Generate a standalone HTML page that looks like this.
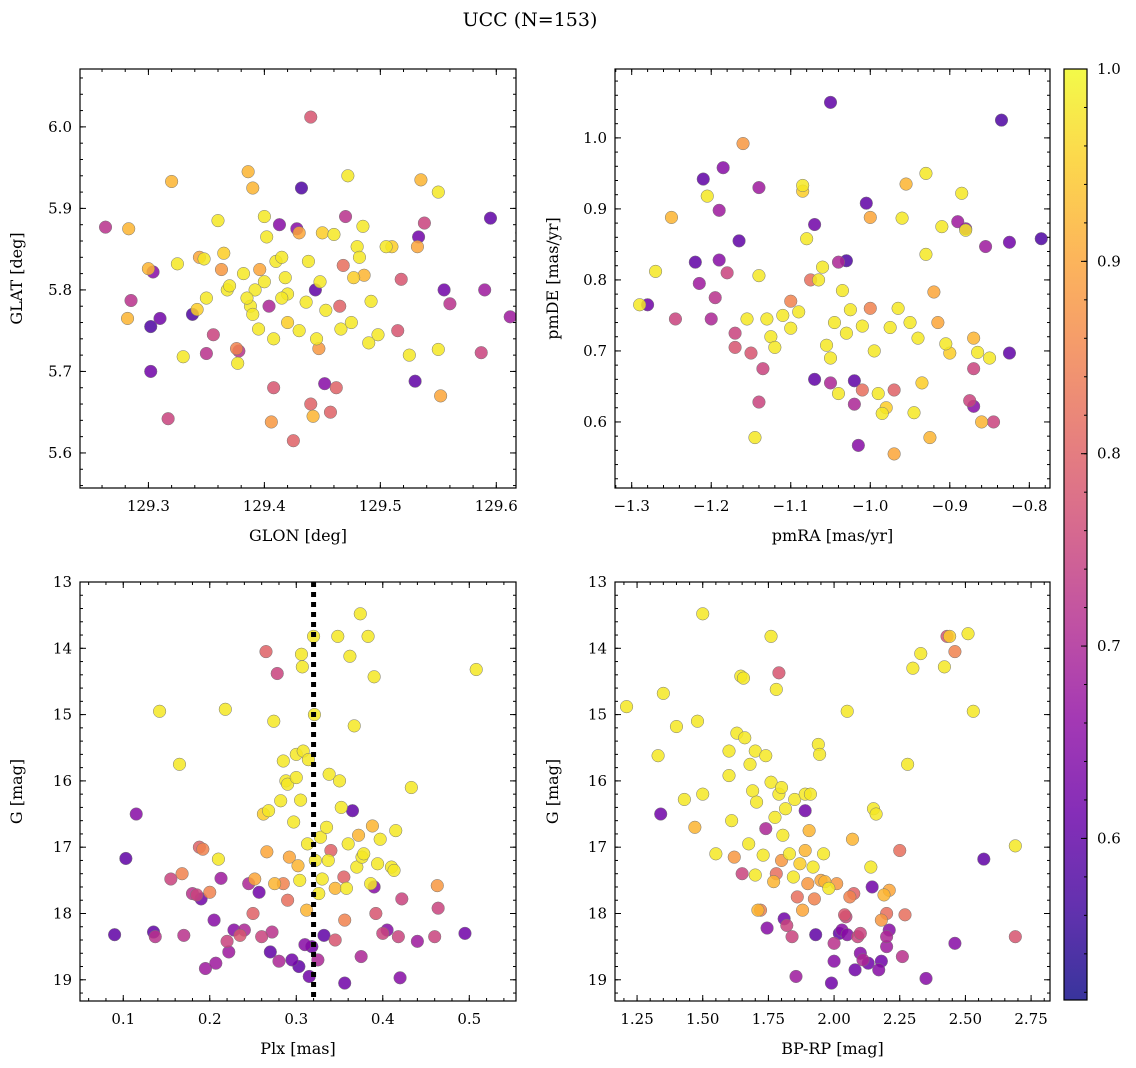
<!DOCTYPE html>
<html><head><meta charset="utf-8"><style>
html,body{margin:0;padding:0;background:#fff;}
svg{display:block;font-family:"DejaVu Serif","Liberation Serif",serif;}
</style></head><body>
<svg id="fig" width="1136" height="1068" viewBox="0 0 1136 1068" xmlns="http://www.w3.org/2000/svg">
<text x="530" y="26" text-anchor="middle" font-size="19">UCC (N=153)</text>
</svg>
<script>
// ---------- data ----------
const p1Data = [
[129.263,5.877,0.72],[129.283,5.875,0.92],[129.282,5.765,0.92],[129.285,5.787,0.72],[129.300,5.826,0.92],[129.304,5.822,0.65],[129.302,5.755,0.58],[129.310,5.765,0.62],[129.302,5.700,0.62],[129.317,5.642,0.75],[129.320,5.933,0.92],[129.325,5.832,0.98],[129.330,5.718,0.98],[129.338,5.770,0.58],[129.342,5.776,0.95],[129.344,5.840,0.9],[129.348,5.838,0.98],[129.350,5.790,0.98],[129.350,5.722,0.72],[129.356,5.745,0.75],[129.360,5.885,0.98],[129.363,5.825,0.88],[129.365,5.845,0.95],[129.368,5.800,0.98],[129.370,5.805,0.98],[129.376,5.728,0.85],[129.378,5.725,0.72],[129.377,5.710,0.98],[129.382,5.820,0.98],[129.386,5.945,0.92],[129.390,5.925,0.92],[129.388,5.780,0.98],[129.390,5.770,0.98],[129.392,5.800,0.98],[129.395,5.752,0.98],[129.396,5.825,0.9],[129.400,5.890,0.98],[129.402,5.865,0.98],[129.404,5.780,0.7],[129.406,5.638,0.88],[129.408,5.680,0.78],[129.408,5.740,0.98],[129.410,5.835,0.98],[129.413,5.880,0.65],[129.415,5.840,0.98],[129.418,5.815,0.98],[129.420,5.795,0.98],[129.420,5.760,0.95],[129.425,5.615,0.8],[129.428,5.875,0.65],[129.430,5.870,0.9],[129.432,5.925,0.58],[129.436,5.785,0.98],[129.438,5.835,0.98],[129.440,5.660,0.8],[129.440,6.012,0.78],[129.442,5.645,0.92],[129.444,5.800,0.6],[129.447,5.728,0.88],[129.448,5.810,0.98],[129.450,5.870,0.95],[129.452,5.685,0.65],[129.453,5.775,0.98],[129.457,5.650,0.8],[129.460,5.868,0.98],[129.462,5.680,0.8],[129.465,5.780,0.8],[129.466,5.752,0.98],[129.468,5.830,0.82],[129.470,5.890,0.72],[129.472,5.940,0.98],[129.475,5.760,0.98],[129.477,5.815,0.95],[129.480,5.853,0.98],[129.482,5.840,0.98],[129.485,5.878,0.98],[129.486,5.818,0.92],[129.490,5.735,0.98],[129.492,5.786,0.98],[129.498,5.745,0.98],[129.505,5.853,0.98],[129.510,5.853,0.95],[129.515,5.750,0.78],[129.518,5.813,0.78],[129.525,5.720,0.98],[129.530,5.688,0.6],[129.532,5.853,0.9],[129.533,5.865,0.62],[129.535,5.935,0.92],[129.538,5.882,0.75],[129.550,5.920,0.98],[129.550,5.727,0.98],[129.552,5.670,0.9],[129.555,5.800,0.62],[129.560,5.783,0.72],[129.587,5.723,0.75],[129.590,5.800,0.68],[129.595,5.888,0.6],[129.612,5.767,0.68],[129.622,5.870,0.98],[129.445,5.740,0.98],[129.430,5.750,0.98],[129.415,5.790,0.98],[129.400,5.810,0.98],[129.385,5.790,0.98]];
const p2Data = [
[-1.29,0.765,0.98],[-1.28,0.765,0.62],[-1.27,0.812,0.98],[-1.25,0.888,0.92],[-1.245,0.745,0.75],[-1.22,0.825,0.6],[-1.215,0.795,0.68],[-1.21,0.942,0.6],[-1.205,0.918,0.98],[-1.20,0.745,0.7],[-1.195,0.775,0.72],[-1.19,0.828,0.65],[-1.19,0.898,0.68],[-1.185,0.958,0.65],[-1.18,0.810,0.75],[-1.17,0.725,0.75],[-1.17,0.705,0.78],[-1.165,0.855,0.6],[-1.16,0.992,0.88],[-1.155,0.745,0.98],[-1.15,0.697,0.78],[-1.145,0.578,0.98],[-1.14,0.628,0.75],[-1.14,0.806,0.98],[-1.14,0.930,0.68],[-1.135,0.675,0.75],[-1.13,0.745,0.98],[-1.125,0.720,0.98],[-1.12,0.705,0.98],[-1.11,0.750,0.98],[-1.10,0.732,0.98],[-1.10,0.770,0.85],[-1.09,0.755,0.98],[-1.085,0.933,0.98],[-1.085,0.925,0.95],[-1.08,0.858,0.98],[-1.075,0.800,0.82],[-1.07,0.878,0.62],[-1.07,0.660,0.6],[-1.065,0.800,0.98],[-1.06,0.818,0.98],[-1.055,0.708,0.98],[-1.05,0.690,0.98],[-1.05,0.655,0.7],[-1.045,0.740,0.98],[-1.04,0.640,0.98],[-1.04,0.825,0.7],[-1.035,0.785,0.98],[-1.03,0.725,0.98],[-1.03,0.827,0.58],[-1.025,0.758,0.98],[-1.02,0.625,0.7],[-1.02,0.658,0.6],[-1.015,0.567,0.65],[-1.01,0.735,0.98],[-1.005,0.908,0.6],[-1.00,0.888,0.9],[-1.00,0.760,0.85],[-0.995,0.700,0.98],[-0.99,0.640,0.98],[-0.985,0.612,0.98],[-0.98,0.620,0.95],[-0.975,0.733,0.98],[-0.97,0.645,0.8],[-0.97,0.555,0.9],[-0.965,0.760,0.98],[-0.96,0.887,0.98],[-0.955,0.935,0.92],[-0.95,0.740,0.98],[-0.945,0.613,0.98],[-0.94,0.718,0.98],[-0.935,0.655,0.95],[-0.93,0.950,0.98],[-0.93,0.836,0.98],[-0.925,0.578,0.92],[-0.92,0.783,0.9],[-0.915,0.740,0.9],[-0.91,0.875,0.98],[-0.905,0.710,0.98],[-0.9,0.697,0.95],[-0.89,0.882,0.68],[-0.885,0.922,0.98],[-0.88,0.870,0.98],[-0.875,0.630,0.75],[-0.87,0.718,0.92],[-0.865,0.698,0.98],[-0.86,0.600,0.92],[-0.855,0.847,0.68],[-0.85,0.690,0.98],[-0.845,0.600,0.75],[-0.88,0.872,0.65],[-0.87,0.675,0.75],[-0.87,0.622,0.65],[-0.835,1.025,0.58],[-0.825,0.697,0.6],[-0.825,0.853,0.62],[-0.785,0.858,0.58],[-1.05,1.050,0.6],[-1.01,0.645,0.82]];
const p3Data = [
[0.09,18.32,0.6],[0.103,17.17,0.6],[0.115,16.5,0.65],[0.135,18.28,0.6],[0.137,18.35,0.72],[0.142,14.95,0.98],[0.155,17.48,0.75],[0.165,15.75,0.98],[0.168,17.40,0.85],[0.17,18.33,0.72],[0.18,17.7,0.72],[0.185,17.72,0.75],[0.188,17.00,0.8],[0.19,17.78,0.62],[0.192,17.03,0.85],[0.195,18.83,0.68],[0.2,17.68,0.85],[0.205,18.10,0.65],[0.207,18.75,0.68],[0.21,17.18,0.98],[0.213,17.47,0.68],[0.218,14.92,0.98],[0.22,18.42,0.75],[0.222,18.58,0.68],[0.228,18.25,0.65],[0.235,18.33,0.78],[0.24,18.25,0.7],[0.245,17.55,0.7],[0.25,18.0,0.8],[0.252,17.48,0.9],[0.257,17.68,0.62],[0.26,18.35,0.75],[0.262,16.5,0.95],[0.265,14.05,0.8],[0.266,17.07,0.9],[0.268,16.45,0.98],[0.27,18.58,0.6],[0.272,18.28,0.72],[0.274,15.10,0.98],[0.275,17.55,0.92],[0.278,14.38,0.75],[0.28,18.72,0.7],[0.282,16.30,0.98],[0.285,15.7,0.98],[0.288,16.0,0.98],[0.29,16.05,0.98],[0.29,17.8,0.82],[0.292,17.15,0.9],[0.295,18.7,0.62],[0.297,16.62,0.98],[0.3,15.6,0.98],[0.302,17.28,0.92],[0.303,18.80,0.6],[0.304,17.50,0.98],[0.305,16.29,0.98],[0.306,14.09,0.98],[0.307,14.28,0.98],[0.308,15.55,0.98],[0.31,18.47,0.65],[0.312,17.95,0.92],[0.313,16.95,0.98],[0.314,15.68,0.98],[0.315,18.95,0.62],[0.318,18.5,0.62],[0.32,13.82,0.98],[0.321,15.0,0.98],[0.322,17.2,0.98],[0.325,18.7,0.7],[0.326,17.70,0.98],[0.328,16.85,0.98],[0.33,17.48,0.98],[0.332,18.33,0.6],[0.335,16.7,0.98],[0.337,17.2,0.98],[0.338,15.9,0.98],[0.34,17.05,0.8],[0.345,17.62,0.92],[0.348,13.82,0.98],[0.35,16.0,0.98],[0.352,16.4,0.98],[0.355,17.45,0.8],[0.356,18.1,0.85],[0.356,19.05,0.62],[0.358,17.62,0.98],[0.36,16.95,0.98],[0.362,14.12,0.98],[0.365,16.45,0.6],[0.367,15.17,0.98],[0.37,17.30,0.98],[0.372,16.82,0.92],[0.374,13.48,0.98],[0.375,18.65,0.7],[0.376,17.15,0.98],[0.378,17.1,0.98],[0.383,13.82,0.98],[0.386,17.55,0.98],[0.388,16.68,0.92],[0.39,14.43,0.98],[0.39,17.6,0.65],[0.392,18.0,0.78],[0.394,17.25,0.98],[0.397,16.88,0.98],[0.4,18.3,0.75],[0.405,18.25,0.65],[0.41,17.3,0.98],[0.413,17.35,0.98],[0.415,16.75,0.98],[0.418,18.35,0.75],[0.42,18.97,0.65],[0.422,17.78,0.75],[0.433,16.1,0.98],[0.44,18.42,0.68],[0.46,18.35,0.75],[0.463,17.58,0.88],[0.464,17.92,0.75],[0.495,18.3,0.62],[0.508,14.32,0.98],[0.345,18.4,0.78],[0.3,15.95,0.98],[0.285,17.55,0.85]];
const p4Data = [
[1.21,14.88,0.98],[1.33,15.62,0.98],[1.34,16.5,0.62],[1.35,14.68,0.98],[1.40,15.18,0.98],[1.43,16.28,0.98],[1.47,16.70,0.92],[1.48,15.10,0.98],[1.50,13.48,0.98],[1.50,16.20,0.98],[1.55,17.10,0.98],[1.60,15.55,0.98],[1.60,15.92,0.98],[1.61,16.60,0.98],[1.62,17.15,0.88],[1.63,15.28,0.98],[1.645,14.42,0.98],[1.655,14.45,0.98],[1.65,17.40,0.75],[1.66,15.35,0.98],[1.675,16.95,0.98],[1.68,15.75,0.98],[1.69,16.15,0.98],[1.70,15.55,0.98],[1.70,17.42,0.98],[1.705,16.32,0.98],[1.71,17.95,0.92],[1.72,17.95,0.85],[1.73,17.12,0.98],[1.74,15.62,0.98],[1.74,16.72,0.7],[1.745,18.22,0.65],[1.76,13.82,0.98],[1.76,16.02,0.98],[1.77,17.52,0.92],[1.775,16.55,0.98],[1.78,14.62,0.98],[1.78,17.40,0.82],[1.79,14.37,0.78],[1.79,16.2,0.98],[1.80,16.10,0.98],[1.80,17.20,0.88],[1.805,16.82,0.98],[1.81,18.08,0.62],[1.815,16.42,0.98],[1.82,18.18,0.75],[1.83,17.10,0.98],[1.84,18.35,0.75],[1.845,17.45,0.98],[1.85,16.28,0.98],[1.855,18.95,0.68],[1.86,17.75,0.82],[1.87,17.25,0.95],[1.88,17.95,0.9],[1.89,16.45,0.62],[1.89,16.2,0.98],[1.89,17.05,0.92],[1.90,17.55,0.88],[1.905,16.75,0.92],[1.91,16.20,0.98],[1.92,17.30,0.98],[1.925,17.78,0.85],[1.93,18.32,0.6],[1.94,15.45,0.98],[1.945,15.6,0.98],[1.95,17.5,0.9],[1.96,17.1,0.98],[1.965,17.52,0.92],[1.98,17.62,0.98],[1.99,19.05,0.62],[2.00,18.45,0.72],[2.00,18.72,0.65],[2.01,17.55,0.88],[2.02,18.30,0.6],[2.03,18.25,0.65],[2.04,18.02,0.78],[2.045,18.05,0.75],[2.05,14.95,0.98],[2.05,18.32,0.65],[2.06,17.75,0.85],[2.07,16.88,0.92],[2.075,17.7,0.8],[2.08,18.85,0.62],[2.09,18.35,0.75],[2.10,18.6,0.65],[2.10,18.3,0.75],[2.11,18.7,0.7],[2.13,18.75,0.62],[2.14,17.3,0.98],[2.145,17.6,0.62],[2.15,16.42,0.98],[2.16,16.5,0.98],[2.17,18.85,0.65],[2.18,18.72,0.62],[2.18,18.1,0.88],[2.19,17.72,0.92],[2.20,18.0,0.82],[2.20,18.5,0.68],[2.20,18.35,0.7],[2.21,17.65,0.9],[2.21,18.25,0.65],[2.25,17.05,0.82],[2.26,18.65,0.72],[2.27,18.02,0.82],[2.28,15.75,0.98],[2.30,14.30,0.98],[2.33,14.08,0.98],[2.35,18.98,0.65],[2.42,14.28,0.98],[2.43,13.82,0.78],[2.44,13.82,0.95],[2.46,14.05,0.85],[2.46,18.45,0.65],[2.51,13.78,0.98],[2.53,14.95,0.98],[2.57,17.18,0.6],[2.69,16.98,0.98],[2.69,18.35,0.78]];
const plxLine = 0.32;
const glonTicks = [129.3,129.4,129.5,129.6];
const glatTicks = [5.6,5.7,5.8,5.9,6.0];
const pmraTicks = [-1.3,-1.2,-1.1,-1.0,-0.9,-0.8];
const pmdeTicks = [0.6,0.7,0.8,0.9,1.0];
const plxTicks = [0.1,0.2,0.3,0.4,0.5];
const gTicks = [13,14,15,16,17,18,19];
const bprpTicks = [1.25,1.5,1.75,2.0,2.25,2.5,2.75];
const cbarTicks = [0.6,0.7,0.8,0.9,1.0];
const cbarMin = 0.516, cbarMax = 1.0;

// ---------- helpers ----------
const NS="http://www.w3.org/2000/svg";
const svg=document.getElementById('fig');
function mk(tag,attrs,parent){const e=document.createElementNS(NS,tag);for(const k in attrs)e.setAttribute(k,attrs[k]);(parent||svg).appendChild(e);return e;}
const plasma=[[13,8,135],[65,4,157],[106,0,168],[143,13,164],[177,42,144],[204,71,120],[225,100,98],[242,132,75],[252,166,54],[252,206,37],[240,249,33]];
function cmap(v){let t=(v-cbarMin)/(cbarMax-cbarMin);t=Math.max(0,Math.min(1,t))*10;const i=Math.min(9,Math.floor(t)),f=t-i;const a=plasma[i],b=plasma[i+1];return 'rgb('+a.map((c,k)=>Math.round(c+(b[k]-c)*f)).join(',')+')';}
function fmt(v,d){return v.toFixed(d);}
const defs=mk('defs',{});
let clipN=0;

function panel(o){
  const g=mk('g',{});
  
  
  const sx=v=>o.x0+(v-o.xmin)/(o.xmax-o.xmin)*(o.x1-o.x0);
  const sy=v=>o.inv? o.y0+(v-o.ymin)/(o.ymax-o.ymin)*(o.y1-o.y0) : o.y1-(v-o.ymin)/(o.ymax-o.ymin)*(o.y1-o.y0);
  const cid='clip'+(clipN++);
  const cp=mk('clipPath',{id:cid},defs);
  mk('rect',{x:o.x0,y:o.y0,width:o.x1-o.x0,height:o.y1-o.y0},cp);
  const pg=mk('g',{'clip-path':'url(#'+cid+')'},g);
  
  
  const sorted=o.data.slice().sort((a,b)=>a[2]-b[2]);
  sorted.forEach(d=>{
    const c=mk('circle',{cx:sx(d[0]),cy:sy(d[1]),r:6.3,fill:cmap(d[2]),'fill-opacity':0.85,stroke:'#777','stroke-width':0.5},pg);
    
    
  });
  if(o.vline!==undefined){
    const l=mk('line',{x1:sx(o.vline),x2:sx(o.vline),y1:o.y0,y2:o.y1,stroke:'#000','stroke-width':5,'stroke-dasharray':'5,5'},g);
    
    
  }
  const tg=mk('g',{stroke:'#000','stroke-width':1},g);
  for(let v=Math.ceil(o.xmin/o.xminor)*o.xminor;v<=o.xmax;v+=o.xminor){const x=sx(v);mk('line',{x1:x,x2:x,y1:o.y1,y2:o.y1-3},tg);mk('line',{x1:x,x2:x,y1:o.y0,y2:o.y0+3},tg);}
  for(let v=Math.ceil(o.ymin/o.yminor)*o.yminor;v<=o.ymax;v+=o.yminor){const y=sy(v);mk('line',{x1:o.x0,x2:o.x0+3,y1:y,y2:y},tg);mk('line',{x1:o.x1,x2:o.x1-3,y1:y,y2:y},tg);}
  o.xt.forEach(v=>{const x=sx(v);mk('line',{x1:x,x2:x,y1:o.y1,y2:o.y1-6},tg);mk('line',{x1:x,x2:x,y1:o.y0,y2:o.y0+6},tg);
    const t=mk('text',{x:x,y:o.y1+23,'text-anchor':'middle','font-size':15},g);t.textContent=fmt(v,o.xd).replace('-','\u2212');
    });
  o.yt.forEach(v=>{const y=sy(v);mk('line',{x1:o.x0,x2:o.x0+6,y1:y,y2:y},tg);mk('line',{x1:o.x1,x2:o.x1-6,y1:y,y2:y},tg);
    const t=mk('text',{x:o.x0-8,y:y+5,'text-anchor':'end','font-size':15},g);t.textContent=fmt(v,o.yd);
    });
  const fr=mk('rect',{x:o.x0,y:o.y0,width:o.x1-o.x0,height:o.y1-o.y0,fill:'none',stroke:'#000','stroke-width':1.2},g);
  
  const xl=mk('text',{x:(o.x0+o.x1)/2,y:o.y1+53,'text-anchor':'middle','font-size':16},g);xl.textContent=o.xlabel;
  
  const cy=(o.y0+o.y1)/2;
  const yl=mk('text',{x:o.ylx,y:cy,'text-anchor':'middle','font-size':16,transform:'rotate(-90 '+o.ylx+' '+cy+')'},g);yl.textContent=o.ylabel;
  
}

panel({name:'glon-glat-panel',data:p1Data,x0:80,x1:516,y0:69,y1:488,xmin:129.241,xmax:129.617,ymin:5.557,ymax:6.071,xminor:0.02,yminor:0.02,xt:glonTicks,yt:glatTicks,xd:1,yd:1,xlabel:'GLON [deg]',ylabel:'GLAT [deg]',ylx:22});
panel({name:'pm-panel',data:p2Data,x0:615,x1:1050,y0:69,y1:488,xmin:-1.321,xmax:-0.774,ymin:0.507,ymax:1.097,xminor:0.02,yminor:0.02,xt:pmraTicks,yt:pmdeTicks,xd:1,yd:1,xlabel:'pmRA [mas/yr]',ylabel:'pmDE [mas/yr]',ylx:558});
panel({name:'plx-g-panel',data:p3Data,x0:80,x1:516,y0:582,y1:1001,xmin:0.050,xmax:0.554,ymin:13,ymax:19.32,inv:true,xminor:0.02,yminor:0.2,xt:plxTicks,yt:gTicks,xd:1,yd:0,xlabel:'Plx [mas]',ylabel:'G [mag]',ylx:22,vline:plxLine});
panel({name:'cmd-panel',data:p4Data,x0:615,x1:1050,y0:582,y1:1001,xmin:1.166,xmax:2.822,ymin:13,ymax:19.32,inv:true,xminor:0.05,yminor:0.2,xt:bprpTicks,yt:gTicks,xd:2,yd:0,xlabel:'BP-RP [mag]',ylabel:'G [mag]',ylx:558});

// colorbar
const cb=mk('g',{});


const lg=mk('linearGradient',{id:'plg',x1:0,y1:1,x2:0,y2:0},defs);
plasma.forEach((c,i)=>mk('stop',{offset:(i/10),'stop-color':'rgb('+c.join(',')+')','stop-opacity':0.82},lg));
const cbx0=1064,cbx1=1087,cby0=69,cby1=1000;
mk('rect',{x:cbx0,y:cby0,width:cbx1-cbx0,height:cby1-cby0,fill:'url(#plg)',stroke:'#000','stroke-width':1.2},cb);
const cy=v=>cby1-(v-cbarMin)/(cbarMax-cbarMin)*(cby1-cby0);
for(let v=0.52;v<=1.0001;v+=0.02){mk('line',{x1:cbx1,x2:cbx1-3,y1:cy(v),y2:cy(v),stroke:'#000'},cb);}
cbarTicks.forEach(v=>{mk('line',{x1:cbx1,x2:cbx1-6,y1:cy(v),y2:cy(v),stroke:'#000'},cb);
  const t=mk('text',{x:cbx1+10,y:cy(v)+5,'font-size':15},cb);t.textContent=v.toFixed(1);
  });
</script>
</body></html>
